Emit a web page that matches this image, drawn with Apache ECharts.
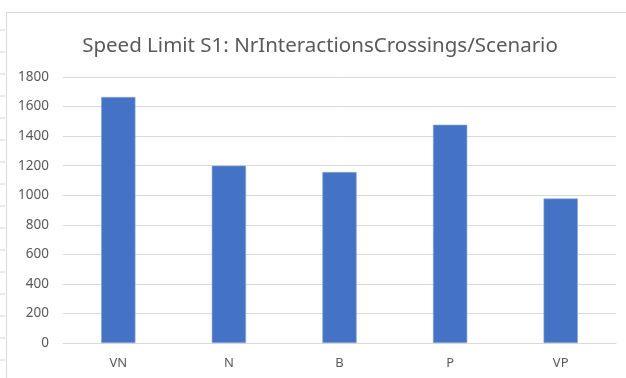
<!DOCTYPE html>
<html>
<head>
<meta charset="utf-8">
<script src="https://cdn.jsdelivr.net/npm/echarts@6/dist/echarts.min.js"></script>
<style>
  html, body { margin: 0; padding: 0; background: #fff; }
  #chart { width: 626px; height: 378px; }
</style>
</head>
<body>
<div id="chart"></div>
<script>
// Scenarios on the category axis
const categories = ['VN', 'N', 'B', 'P', 'VP'];
// Number of crossing interactions per scenario
const crossings = [1665, 1200, 1157, 1477, 978];
// Value axis range
const yMin = 0;
const yMax = 1800;
const yStep = 200;

const chart = echarts.init(document.getElementById('chart'), null, { renderer: 'canvas' });

// Sheet row separators peeking out on the left of the chart frame
const rowMarks = [];
for (let y = 30; y < 378; y += 22) {
  rowMarks.push({
    type: 'line',
    shape: { x1: 0, y1: y, x2: 5, y2: y },
    style: { stroke: '#d4d4d4', lineWidth: 1 },
    silent: true
  });
}

chart.setOption({
  animation: false,
  backgroundColor: '#ffffff',
  title: {
    text: 'Speed Limit S1: NrInteractionsCrossings/Scenario',
    left: 315,
    textAlign: 'center',
    top: 31,
    textStyle: {
      fontFamily: 'Noto Sans',
      fontSize: 20.5,
      fontWeight: 'normal',
      color: '#595959'
    }
  },
  graphic: [
    {
      type: 'rect',
      shape: { x: 6.5, y: 12.5, width: 700, height: 500 },
      style: { fill: 'none', stroke: '#d9d9d9', lineWidth: 1 },
      silent: true,
      z: -1
    }
  ].concat(rowMarks),
  grid: {
    left: 63,
    right: 10,
    top: 77,
    bottom: 35,
    containLabel: false
  },
  xAxis: {
    type: 'category',
    data: categories,
    axisLine: { show: true, lineStyle: { color: '#d9d9d9', width: 1 } },
    axisTick: { show: false },
    axisLabel: {
      color: '#595959',
      fontFamily: 'Noto Sans',
      fontSize: 13,
      margin: 14
    }
  },
  yAxis: {
    type: 'value',
    min: yMin,
    max: yMax,
    interval: yStep,
    axisLine: { show: false },
    axisTick: { show: false },
    axisLabel: {
      color: '#595959',
      fontFamily: 'Noto Sans',
      fontSize: 13.5,
      margin: 14,
      formatter: (v) => String(v)
    },
    splitLine: { show: true, lineStyle: { color: '#d9d9d9', width: 1 } }
  },
  series: [
    {
      type: 'bar',
      data: crossings,
      barWidth: '31%',
      itemStyle: { color: '#4472c4', borderColor: '#8faadc', borderWidth: 0.6 }
    }
  ]
});
</script>
</body>
</html>
